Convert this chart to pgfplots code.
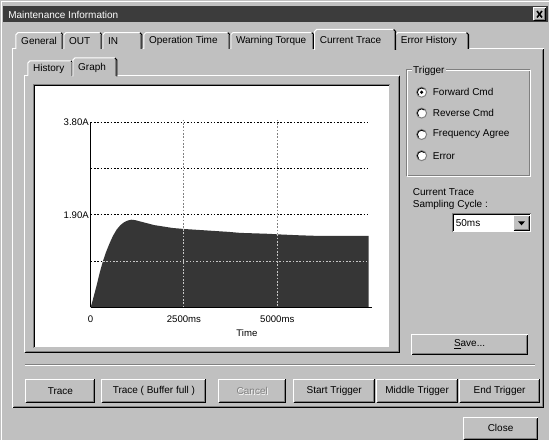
\documentclass[border=0pt]{standalone}
\usepackage{pgfplots}
\pgfplotsset{compat=1.18}
\usepackage{fontspec}
\setmainfont{Liberation Sans}
\definecolor{bg}{HTML}{C0C0C0}
\definecolor{dk}{HTML}{808080}
\definecolor{titlec}{HTML}{3C3C3C}
\definecolor{fillc}{HTML}{363636}
\definecolor{lgrid}{HTML}{C8C8C8}
\newcommand{\ui}{\fontsize{7.5}{9}\selectfont}
% raised button: x1 y1 x2 y2 label
\newcommand{\btn}[5]{%
  \fill[bg] (#1,#2) rectangle (#3,#4);
  \draw[white,line width=0.75pt] (#1,#4) -- (#1,#2) -- (#3,#2);
  \draw[black,line width=0.75pt] (#1,#4) -- (#3,#4) -- (#3,#2);
  \draw[dk,line width=0.75pt] ({#1+1},{#4-1}) -- ({#3-1},{#4-1}) -- ({#3-1},{#2+1});
  \node[font=\ui,inner sep=0pt] at ({(#1+#3)/2},{(#2+#4)/2}) {#5};
}
% tab: x1 ytop x2 ybot label
\newcommand{\tabx}[5]{%
  \fill[bg] (#1,#4) rectangle (#3,#2);
  \draw[white,line width=0.75pt] (#1,#4) -- (#1,{#2+2}) -- ({#1+2},#2) -- ({#3-2},#2);
  \draw[black,line width=0.75pt] ({#3-2},#2) -- (#3,{#2+2}) -- (#3,#4);
  \draw[dk,line width=0.75pt] ({#3-1},{#2+2}) -- ({#3-1},#4);
  \node[font=\ui,anchor=west,inner sep=0pt] at ({#1+5},{(#2+#4)/2+0.5}) {#5};
}
\begin{document}
\begin{tikzpicture}[x=0.75pt,y=-0.75pt]
% dialog background
\fill[bg] (0,0) rectangle (549,440);
\draw[white,line width=0.75pt] (1.5,440) -- (1.5,1.5) -- (549,1.5);
% title bar
\fill[titlec] (3,6.5) rectangle (548,22.5);
\node[anchor=west,white,font=\ui,inner sep=0pt] at (8,14.8) {Maintenance Information};
\btn{534}{8}{546}{20.5}{}
\draw[black,line width=1.2pt] (537.5,11) -- (542.5,17.5);
\draw[black,line width=1.2pt] (542.5,11) -- (537.5,17.5);
% main tab panel
\fill[bg] (13,49) rectangle (544,408);
\draw[white,line width=0.75pt] (13,408) -- (13,49) -- (544,49);
\draw[black,line width=0.75pt] (13,408.3) -- (544,408.3) -- (544,49);
\draw[dk,line width=0.75pt] (14,407.3) -- (543,407.3) -- (543,50);
% tabs
\tabx{16}{32.7}{63}{49}{General}
\tabx{64}{32.7}{102}{49}{OUT}
\tabx{103}{32.7}{142}{49}{IN}
\tabx{144}{32.7}{230}{49}{Operation Time}
\tabx{231}{32.7}{314}{49}{Warning Torque}
\tabx{396}{32.7}{469}{49}{Error History}
\tabx{315}{29.5}{396}{50}{Current Trace}
% inner tab page
\draw[white,line width=0.75pt] (25,352) -- (25,75.7) -- (399,75.7);
\draw[black,line width=0.75pt] (25,352.5) -- (399.5,352.5) -- (399.5,75.7);
\draw[dk,line width=0.75pt] (26,351.5) -- (398.5,351.5) -- (398.5,76.7);
\tabx{28}{61}{73}{75.7}{History}
\tabx{73}{58}{117}{76.5}{Graph}
% white graph area (sunken)
\fill[white] (34.5,85.5) rectangle (389.5,347.5);
\draw[dk,line width=0.75pt] (34,348) -- (34,85) -- (390,85);
\draw[black,line width=0.75pt] (35,347) -- (35,86) -- (389,86);
\coordinate (O) at (90.7,307.7);
% the chart
\begin{axis}[
  at={(O)}, anchor=south west,
  scale only axis, width=211pt, height=139pt,
  xmin=0, xmax=7530, ymin=0, ymax=3.8,
  axis lines=left, axis line style={-, line width=0.9pt, black},
  axis on top,
  xtick={0,2500,5000}, xticklabels={0,2500ms,5000ms},
  ytick={1.9,3.8}, yticklabels={1.90A,3.80A},
  major tick length=0pt,
  tick label style={font=\fontsize{7.2}{8}\selectfont},
  xticklabel style={yshift=-2.5pt},
  yticklabel style={inner sep=1.2pt},
  clip=false,
]
\addplot[fill=fillc, draw=none] coordinates {
(0,0) (50,0.13) (150,0.42) (250,0.73) (330,0.95) (420,1.15) (516,1.33)
(600,1.47) (700,1.60) (800,1.69) (900,1.75) (1000,1.785) (1100,1.80)
(1200,1.79) (1350,1.76) (1500,1.73) (1700,1.69) (1950,1.66) (2200,1.63)
(2500,1.61) (3100,1.58) (3700,1.55) (4000,1.53) (4800,1.51) (5000,1.50)
(5600,1.48) (6000,1.47) (7450,1.47)
} \closedcycle;
% grid lines (dark on white, light on the filled area)
\draw[black, line width=0.65pt, dash pattern=on 1.2pt off 1.3pt] (axis cs:0,3.8) -- (axis cs:7415,3.8);
\draw[black, line width=0.65pt, dash pattern=on 1.2pt off 1.3pt] (axis cs:0,2.85) -- (axis cs:7415,2.85);
\draw[black, line width=0.65pt, dash pattern=on 1.2pt off 1.3pt] (axis cs:0,1.9) -- (axis cs:7415,1.9);
\draw[black, line width=0.65pt, dash pattern=on 1.2pt off 1.3pt] (axis cs:0,0.95) -- (axis cs:330,0.95);
\draw[lgrid, line width=0.65pt, dash pattern=on 1.2pt off 1.3pt] (axis cs:330,0.95) -- (axis cs:7415,0.95);
\draw[dk, line width=0.75pt, dash pattern=on 1.2pt off 1.3pt] (axis cs:2500,3.85) -- (axis cs:2500,1.61);
\draw[lgrid, line width=0.75pt, dash pattern=on 1.2pt off 1.3pt] (axis cs:2500,1.61) -- (axis cs:2500,0);
\draw[dk, line width=0.75pt, dash pattern=on 1.2pt off 1.3pt] (axis cs:5000,3.85) -- (axis cs:5000,1.50);
\draw[lgrid, line width=0.75pt, dash pattern=on 1.2pt off 1.3pt] (axis cs:5000,1.50) -- (axis cs:5000,0);
\node[font=\fontsize{7.2}{8}\selectfont] at (rel axis cs:0.556,0) [yshift=-19pt] {Time};
\end{axis}
% Trigger group
\draw[dk,line width=0.75pt] (407,70) rectangle (530,176);
\draw[white,line width=0.75pt] (408,71) rectangle (531,177);
\node[fill=bg,font=\ui,anchor=west,inner sep=1pt] at (412,70.5) {Trigger};
\foreach \yy/\lab in {92.3/Forward Cmd, 113.2/Reverse Cmd, 134.6/Frequency Agree, 155.8/Error}{
  \draw[fill=white,draw=dk,line width=0.75pt] (422,\yy) circle (5);
  \draw[black,line width=0.6pt] ([shift={(135:4.2)}]422,\yy) arc[start angle=135,end angle=315,radius=4.2];
  \node[font=\ui,anchor=west,inner sep=0pt] at (433,\yy) {\lab};
}
\fill[black] (422,92.3) circle (1.8);
\node[font=\ui,anchor=west,inner sep=0pt] at (413,192) {Current Trace};
\node[font=\ui,anchor=west,inner sep=0pt] at (413,205.5) {Sampling Cycle :};
% combo box
\fill[white] (453,214) rectangle (531,232.7);
\draw[dk,line width=0.75pt] (453,232.7) -- (453,214) -- (531,214);
\draw[black,line width=0.75pt] (454,231.7) -- (454,215) -- (530,215);
\node[font=\ui,anchor=west,inner sep=0pt] at (456,223.5) {50ms};
\btn{514}{216}{529.5}{231}{}
\fill[black] (518.5,221.5) -- (525.5,221.5) -- (522,225.5) -- cycle;
% Save button
\btn{412}{335}{528}{355}{\underline{S}ave...}
% separator
\draw[dk,line width=0.75pt] (25,365) -- (535,365);
\draw[white,line width=0.75pt] (25,366) -- (535,366);
% bottom buttons
\btn{26}{379.5}{95}{402.5}{Trace}
\btn{102}{379.5}{206}{402.5}{Trace ( Buffer full )}
\btn{219}{379.5}{286}{402.5}{}
\node[font=\ui,white,inner sep=0pt] at (253.2,391.8) {Cancel};
\node[font=\ui,dk,inner sep=0pt] at (252.5,391) {Cancel};
\btn{294}{379.5}{375}{402.5}{Start Trigger}
\btn{377}{379.5}{458}{402.5}{Middle Trigger}
\btn{460}{379.5}{540}{402.5}{End Trigger}
\btn{464}{418}{538}{439.5}{Close}
\end{tikzpicture}
\end{document}
